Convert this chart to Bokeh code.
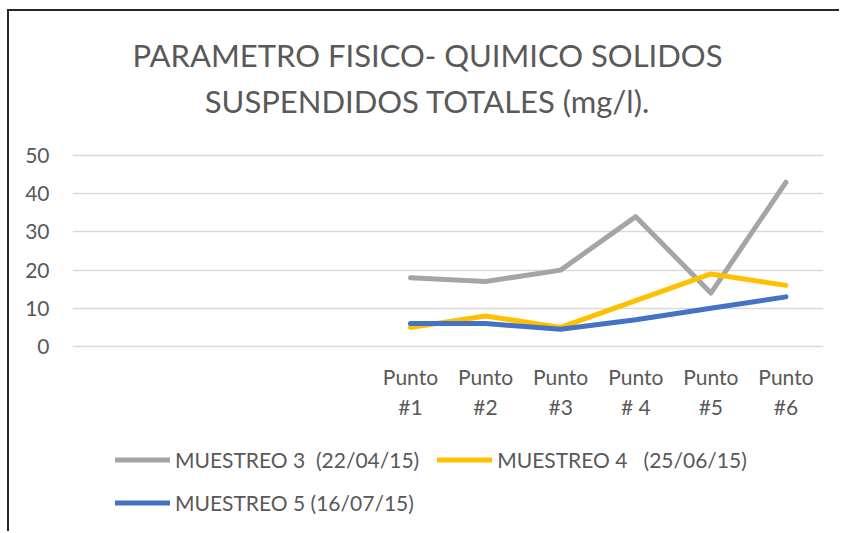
from bokeh.plotting import figure
from bokeh.layouts import column
from bokeh.models import FactorRange, Legend, LegendItem, Label, SingleIntervalTicker, Range1d
from bokeh.embed import file_html
from bokeh.resources import INLINE

# ---- data ----
blank_categories = [" ", "  ", "   ", "    "]
categories = ["Punto\n#1", "Punto\n#2", "Punto\n#3", "Punto\n# 4", "Punto\n#5", "Punto\n#6"]
muestreo3 = [18, 17, 20, 34, 14, 43]
muestreo4 = [5, 8, 5, 12, 19, 16]
muestreo5 = [6, 6, 4.5, 7, 10, 13]
series_names = ["MUESTREO 3  (22/04/15)", "MUESTREO 4   (25/06/15)", "MUESTREO 5 (16/07/15)"]
title_lines = ["PARAMETRO FISICO- QUIMICO SOLIDOS", "SUSPENDIDOS TOTALES (mg/l)."]
y_min, y_max = 0, 50

FONT = "Lato"
TXT = "#595959"
colors = ["#A5A5A5", "#FFC000", "#4472C4"]
series = [muestreo3, muestreo4, muestreo5]

# ---- main chart (frame also spans the title area) ----
p = figure(
    x_range=FactorRange(*(blank_categories + categories), range_padding=0),
    y_range=Range1d(-0.52, 87.70),
    width=830, height=430,
    output_backend="svg", toolbar_location=None,
    min_border_left=63, min_border_right=16, min_border_top=0, min_border_bottom=93,
)
p.title.visible = False
p.outline_line_color = None
p.background_fill_color = "white"
p.border_fill_color = "white"

p.xgrid.grid_line_color = None
p.ygrid.grid_line_color = "#D9D9D9"
p.ygrid.grid_line_width = 1.5
p.ygrid.bounds = (y_min, y_max)
p.yaxis.ticker = SingleIntervalTicker(interval=10)
p.yaxis.bounds = (y_min, y_max)

for ax in (p.xaxis[0], p.yaxis[0]):
    ax.axis_line_color = None
    ax.major_tick_line_color = None
    ax.minor_tick_line_color = None
    ax.major_tick_out = 0
    ax.major_tick_in = 0
    ax.major_label_text_font = FONT
    ax.major_label_text_font_size = "21px"
    ax.major_label_text_color = TXT
p.yaxis.major_label_standoff = 19
p.xaxis.major_label_standoff = 15

for vals, c in zip(series, colors):
    p.line(categories, vals, line_color=c, line_width=5, line_cap="round", line_join="round")

for txt, y in zip(title_lines, [294, 248]):
    p.add_layout(Label(x=355, y=y, x_units="screen", y_units="screen", text=txt,
                       text_align="center", text_baseline="middle",
                       text_font=FONT, text_font_size="31px", text_color=TXT))

# ---- legend strip below ----
q = figure(width=830, height=90, output_backend="svg", toolbar_location=None,
           x_axis_type=None, y_axis_type=None,
           x_range=FactorRange(*categories), y_range=Range1d(-200, -100),
           min_border_left=0, min_border_right=0, min_border_top=0, min_border_bottom=0)
q.title.visible = False
q.outline_line_color = None
q.grid.grid_line_color = None
legend_renderers = [q.line(categories, vals, line_color=c, line_width=5, line_cap="round")
                    for vals, c in zip(series, colors)]

legend = Legend(
    items=[LegendItem(label=n, renderers=[r]) for n, r in zip(series_names, legend_renderers)],
    location=(43, 16), orientation="horizontal", ncols=2,
    glyph_width=55, glyph_height=25, label_height=25, label_standoff=5,
    spacing=18, padding=0, margin=0, border_line_color=None,
    background_fill_alpha=0, label_text_font=FONT,
    label_text_font_size="21px", label_text_color=TXT)
q.add_layout(legend)

layout = column(p, q, spacing=0,
                styles={"border-top": "2px solid #262626", "border-left": "2px solid #262626",
                        "margin-left": "7px", "margin-top": "9px"})
open("out.html", "w").write(file_html(layout, INLINE))
